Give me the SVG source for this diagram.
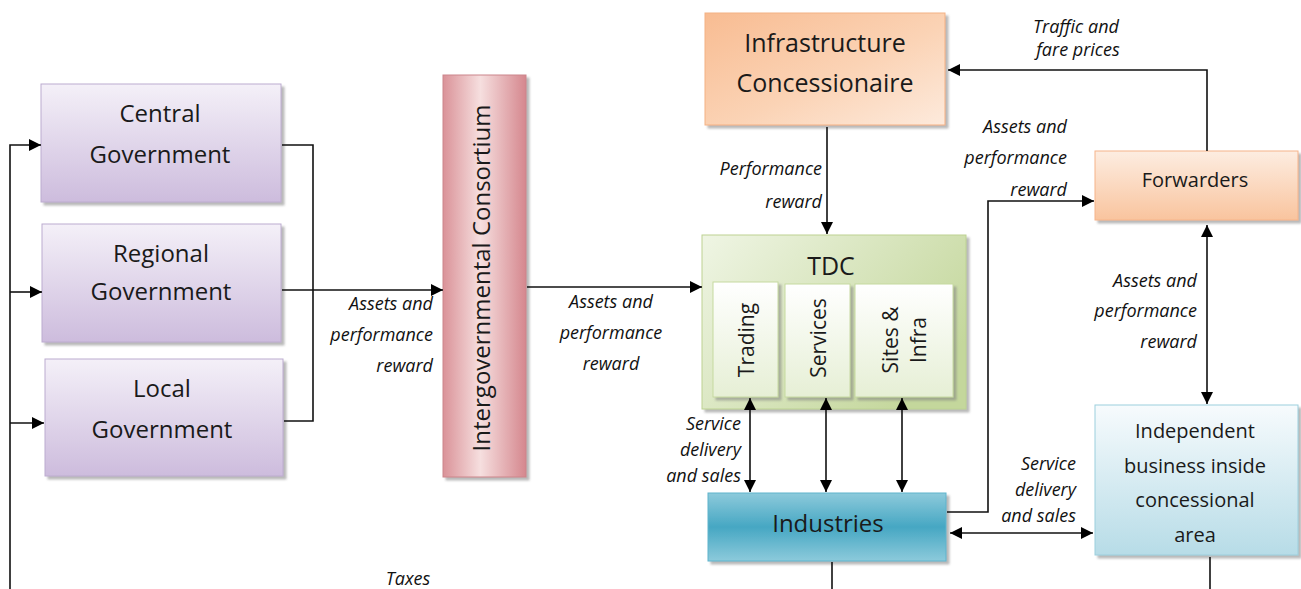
<svg xmlns="http://www.w3.org/2000/svg" width="1301" height="589" viewBox="0 0 1301 589">
  <defs>
    <style>
      .node { font-family: "Open Sans", "Liberation Sans", sans-serif; fill: #1a1a1a; text-anchor: middle; }
      .lbl { font-family: "Open Sans", "Liberation Sans", sans-serif; font-style: italic; font-size: 18px; fill: #111; }
      .end { text-anchor: end; }
      .mid { text-anchor: middle; }
      .wire { fill: none; stroke: #111; stroke-width: 1.6; }
      .arrow { marker-end: url(#head); }
      .both { marker-start: url(#head); marker-end: url(#head); }
    </style>
    <marker id="head" viewBox="0 0 10 10" refX="10" refY="5" markerWidth="12" markerHeight="12" markerUnits="userSpaceOnUse" orient="auto-start-reverse">
      <path d="M0,0 L10,5 L0,10 z" fill="#000"/>
    </marker>
    <filter id="shadow" x="-10%" y="-10%" width="130%" height="130%">
      <feDropShadow dx="3" dy="3" stdDeviation="1" flood-color="#808080" flood-opacity="0.55"/>
    </filter>
    <linearGradient id="gGov" x1="0" y1="0" x2="0" y2="1">
      <stop offset="0" stop-color="#f4f0f8"/>
      <stop offset="1" stop-color="#cdbcdd"/>
    </linearGradient>
    <linearGradient id="gCons" x1="0" y1="0" x2="1" y2="0">
      <stop offset="0" stop-color="#da9298"/>
      <stop offset="0.45" stop-color="#f6dfdf"/>
      <stop offset="1" stop-color="#d5878e"/>
    </linearGradient>
    <linearGradient id="gInfra" x1="0" y1="0" x2="1" y2="1">
      <stop offset="0" stop-color="#f8bc92"/>
      <stop offset="0.55" stop-color="#fbd3b5"/>
      <stop offset="1" stop-color="#fdeadc"/>
    </linearGradient>
    <linearGradient id="gFwd" x1="0" y1="0" x2="0" y2="1">
      <stop offset="0" stop-color="#fdede1"/>
      <stop offset="1" stop-color="#f9c49e"/>
    </linearGradient>
    <linearGradient id="gTdc" x1="0" y1="0" x2="1" y2="0.6">
      <stop offset="0" stop-color="#eff5e4"/>
      <stop offset="1" stop-color="#c4d79c"/>
    </linearGradient>
    <linearGradient id="gInner" x1="0" y1="0" x2="0" y2="1">
      <stop offset="0" stop-color="#ffffff"/>
      <stop offset="1" stop-color="#e6efd5"/>
    </linearGradient>
    <linearGradient id="gInd" x1="0" y1="0" x2="0" y2="1">
      <stop offset="0" stop-color="#8dcadb"/>
      <stop offset="0.5" stop-color="#46a7c3"/>
      <stop offset="1" stop-color="#8ccadb"/>
    </linearGradient>
    <linearGradient id="gIndep" x1="0" y1="0" x2="0" y2="1">
      <stop offset="0" stop-color="#f7fbfd"/>
      <stop offset="1" stop-color="#b7dce7"/>
    </linearGradient>
  </defs>

  <rect width="1301" height="589" fill="#ffffff"/>

  <!-- government tiers -->
  <g id="central-government">
    <rect x="41" y="84" width="240" height="118" fill="url(#gGov)" stroke="#bcaccf" filter="url(#shadow)"/>
    <text class="node" x="160" y="122" font-size="24">Central</text>
    <text class="node" x="160" y="163" font-size="24">Government</text>
  </g>
  <g id="regional-government">
    <rect x="42" y="224" width="239" height="118" fill="url(#gGov)" stroke="#bcaccf" filter="url(#shadow)"/>
    <text class="node" x="161" y="262" font-size="24">Regional</text>
    <text class="node" x="161" y="300" font-size="24">Government</text>
  </g>
  <g id="local-government">
    <rect x="45" y="359" width="238" height="117" fill="url(#gGov)" stroke="#bcaccf" filter="url(#shadow)"/>
    <text class="node" x="162" y="397" font-size="24">Local</text>
    <text class="node" x="162" y="438" font-size="24">Government</text>
  </g>

  <g id="intergovernmental-consortium">
    <rect x="443" y="75" width="83" height="402" fill="url(#gCons)" stroke="#cc858b" filter="url(#shadow)"/>
    <text class="node" font-size="24" transform="translate(490,278) rotate(-90)">Intergovernmental Consortium</text>
  </g>

  <g id="infrastructure-concessionaire">
    <rect x="705" y="13" width="240" height="112" fill="url(#gInfra)" stroke="#f4b183" filter="url(#shadow)"/>
    <text class="node" x="825" y="52" font-size="25">Infrastructure</text>
    <text class="node" x="825" y="92" font-size="25">Concessionaire</text>
  </g>

  <g id="tdc">
    <rect x="702" y="235" width="264" height="174" fill="url(#gTdc)" stroke="#bdd292" filter="url(#shadow)"/>
    <text class="node" x="831" y="275" font-size="25">TDC</text>
    <g id="trading">
      <rect x="713" y="282" width="65" height="115" fill="url(#gInner)" stroke="#c6d9a0" filter="url(#shadow)"/>
      <text class="node" font-size="21" transform="translate(754,340) rotate(-90)">Trading</text>
    </g>
    <g id="services">
      <rect x="785" y="284" width="65" height="113" fill="url(#gInner)" stroke="#c6d9a0" filter="url(#shadow)"/>
      <text class="node" font-size="21" transform="translate(826,338) rotate(-90)">Services</text>
    </g>
    <g id="sites-infra">
      <rect x="855" y="284" width="98" height="113" fill="url(#gInner)" stroke="#c6d9a0" filter="url(#shadow)"/>
      <text class="node" font-size="21" transform="translate(898,340) rotate(-90)">Sites &amp;</text>
      <text class="node" font-size="21" transform="translate(926,340) rotate(-90)">Infra</text>
    </g>
  </g>

  <g id="industries">
    <rect x="708" y="493" width="238" height="68" fill="url(#gInd)" stroke="#5fb4cc" filter="url(#shadow)"/>
    <text class="node" x="828" y="532" font-size="24">Industries</text>
  </g>

  <g id="forwarders">
    <rect x="1095" y="151" width="203" height="69" fill="url(#gFwd)" stroke="#f6b48a" filter="url(#shadow)"/>
    <text class="node" x="1195" y="187" font-size="20">Forwarders</text>
  </g>

  <g id="independent-business">
    <rect x="1095" y="405" width="203" height="150" fill="url(#gIndep)" stroke="#9ccfdd" filter="url(#shadow)"/>
    <text class="node" x="1195" y="438" font-size="20">Independent</text>
    <text class="node" x="1195" y="473" font-size="20">business inside</text>
    <text class="node" x="1195" y="507" font-size="20">concessional</text>
    <text class="node" x="1195" y="542" font-size="20">area</text>
  </g>

  <!-- connectors, drawn over the boxes so the arrowheads stay visible -->
  <g id="connectors">
    <path class="wire arrow" d="M10,589 V145 H41"/>
    <path class="wire arrow" d="M10,292 H42"/>
    <path class="wire arrow" d="M10,423 H44"/>
    <path class="wire" d="M282,145 H313 V421 H284"/>
    <path class="wire arrow" d="M282,290 H443"/>
    <path class="wire arrow" d="M527,287 H702"/>
    <path class="wire arrow" d="M827,127 V234"/>
    <path class="wire both" d="M750,398 V492"/>
    <path class="wire both" d="M826,398 V492"/>
    <path class="wire both" d="M902,398 V492"/>
    <path class="wire arrow" d="M947,512 H988 V201 H1094"/>
    <path class="wire arrow" d="M1207,151 V70 H948"/>
    <path class="wire both" d="M1207,225 V404"/>
    <path class="wire both" d="M950,533 H1093"/>
    <path class="wire" d="M832,562 V589"/>
    <path class="wire" d="M1210,557 V589"/>

    <text class="lbl end" x="433" y="310">Assets and</text>
    <text class="lbl end" x="433" y="341">performance</text>
    <text class="lbl end" x="433" y="372">reward</text>

    <text class="lbl mid" x="611" y="308">Assets and</text>
    <text class="lbl mid" x="611" y="339">performance</text>
    <text class="lbl mid" x="611" y="370">reward</text>

    <text class="lbl end" x="822" y="175">Performance</text>
    <text class="lbl end" x="822" y="208">reward</text>

    <text class="lbl mid" x="1076" y="33">Traffic and</text>
    <text class="lbl mid" x="1078" y="56">fare prices</text>

    <text class="lbl end" x="1067" y="133">Assets and</text>
    <text class="lbl end" x="1067" y="164">performance</text>
    <text class="lbl end" x="1067" y="196">reward</text>

    <text class="lbl end" x="1197" y="287">Assets and</text>
    <text class="lbl end" x="1197" y="317">performance</text>
    <text class="lbl end" x="1197" y="348">reward</text>

    <text class="lbl end" x="741" y="430">Service</text>
    <text class="lbl end" x="741" y="456">delivery</text>
    <text class="lbl end" x="741" y="482">and sales</text>

    <text class="lbl end" x="1076" y="470">Service</text>
    <text class="lbl end" x="1076" y="496">delivery</text>
    <text class="lbl end" x="1076" y="522">and sales</text>

    <text class="lbl mid" x="408" y="585">Taxes</text>
  </g>
</svg>
